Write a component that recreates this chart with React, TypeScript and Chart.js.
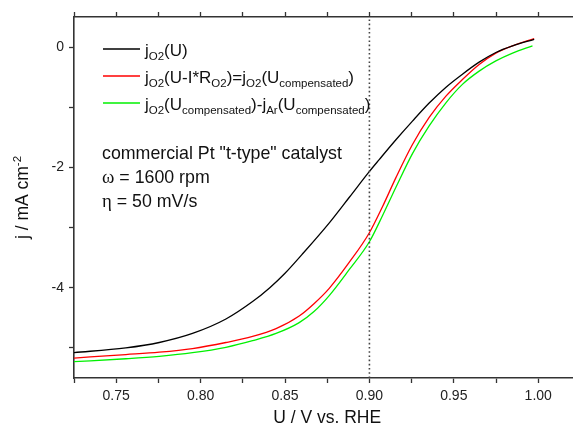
import React, { useEffect, useRef } from "react";
import { Chart, registerables } from "chart.js";

Chart.register(...registerables);

// ---- data ----
const blackX = [0.7241, 0.7557, 0.7755, 0.7952, 0.815, 0.8308, 0.841, 0.85, 0.86, 0.876, 0.888, 0.8999, 0.9058, 0.9157, 0.9255, 0.9354, 0.9452, 0.9551, 0.965, 0.9749, 0.9848, 0.9976];
const blackY = [-5.08, -5.0, -4.91, -4.76, -4.52, -4.23, -4.0, -3.76, -3.45, -2.93, -2.5, -2.07, -1.87, -1.54, -1.23, -0.93, -0.67, -0.45, -0.25, -0.09, 0.02, 0.13];

const redX = [0.7241, 0.7557, 0.7755, 0.7952, 0.815, 0.8308, 0.8447, 0.8584, 0.867, 0.8762, 0.888, 0.8999, 0.9078, 0.9157, 0.9255, 0.9354, 0.9452, 0.9551, 0.965, 0.9749, 0.9848, 0.9976];
const redY = [-5.17, -5.11, -5.07, -5.01, -4.91, -4.81, -4.68, -4.47, -4.27, -4.01, -3.58, -3.09, -2.65, -2.17, -1.62, -1.17, -0.82, -0.54, -0.29, -0.1, 0.02, 0.14];

const greenX = [0.7241, 0.7557, 0.7755, 0.7952, 0.815, 0.8308, 0.8447, 0.8584, 0.867, 0.8762, 0.888, 0.8999, 0.9078, 0.9157, 0.9255, 0.9354, 0.9452, 0.9551, 0.965, 0.9749, 0.9848, 0.9966];
const greenY = [-5.23, -5.18, -5.14, -5.08, -4.99, -4.88, -4.76, -4.58, -4.4, -4.13, -3.7, -3.24, -2.8, -2.33, -1.77, -1.31, -0.93, -0.62, -0.4, -0.23, -0.1, 0.02];

const markerX = [0.9, 0.9];
const markerY = [-5.5, 0.5];

const xMin = 0.725;
const xMax = 1.0206;
const yMin = -5.5;
const yMax = 0.5;

const xTickValues = [0.725, 0.75, 0.775, 0.8, 0.825, 0.85, 0.875, 0.9, 0.925, 0.95, 0.975, 1.0];
const xTickLabels = ["", "0.75", "", "0.80", "", "0.85", "", "0.90", "", "0.95", "", "1.00"];
const yTickValues = [-5, -4, -3, -2, -1, 0];
const yTickLabels = ["", "-4", "", "-2", "", "0"];

type Part = [string, "n" | "sub" | "sup" | "g"];

const legendItems: { color: string; parts: Part[] }[] = [
  { color: "#000000", parts: [["j", "n"], ["O2", "sub"], ["(U)", "n"]] },
  {
    color: "#ff0000",
    parts: [["j", "n"], ["O2", "sub"], ["(U-I*R", "n"], ["O2", "sub"], [")=j", "n"], ["O2", "sub"], ["(U", "n"], ["compensated", "sub"], [")", "n"]],
  },
  {
    color: "#00f000",
    parts: [["j", "n"], ["O2", "sub"], ["(U", "n"], ["compensated", "sub"], [")-j", "n"], ["Ar", "sub"], ["(U", "n"], ["compensated", "sub"], [")", "n"]],
  },
];

const noteLines: Part[][] = [
  [["commercial Pt \"t-type\" catalyst", "n"]],
  [["\u03c9", "g"], [" = 1600 rpm", "n"]],
  [["\u03b7", "g"], [" = 50 mV/s", "n"]],
];

const xTitle: Part[] = [["U / V vs. RHE", "n"]];
const yTitle: Part[] = [["j / mA cm", "n"], ["-2", "sup"]];

const SANS = '"Liberation Sans", Arial, sans-serif';
const SERIF = '"Liberation Serif", "Times New Roman", serif';
const SUB = 11.5;

function partFont(m: Part[1], size: number) {
  if (m === "n") return `${size}px ${SANS}`;
  if (m === "g") return `${size + 1}px ${SERIF}`;
  return `${SUB}px ${SANS}`;
}
function partDy(m: Part[1]) {
  if (m === "sub") return 4;
  if (m === "sup") return -7;
  return 0;
}
function richWidth(ctx: CanvasRenderingContext2D, parts: Part[], size: number) {
  let w = 0;
  for (const [t, m] of parts) {
    ctx.font = partFont(m, size);
    w += ctx.measureText(t).width;
  }
  return w;
}
function drawRich(ctx: CanvasRenderingContext2D, x: number, y: number, parts: Part[], size: number) {
  let cx = x;
  ctx.textAlign = "left";
  ctx.textBaseline = "alphabetic";
  for (const [t, m] of parts) {
    ctx.font = partFont(m, size);
    ctx.fillText(t, cx, y + partDy(m));
    cx += ctx.measureText(t).width;
  }
}

const pts = (xs: number[], ys: number[]) => xs.map((x, i) => ({ x, y: ys[i] }));

const overlayPlugin = {
  id: "overlay",
  afterDraw(chart: any) {
    const ctx: CanvasRenderingContext2D = chart.ctx;
    const xs = chart.scales.x;
    const area = chart.chartArea;
    ctx.save();
    ctx.fillStyle = "#111";
    const rows = [49, 76, 103];
    legendItems.forEach((it, i) => {
      ctx.strokeStyle = it.color;
      ctx.lineWidth = 1.4;
      ctx.beginPath();
      ctx.moveTo(103, rows[i]);
      ctx.lineTo(140, rows[i]);
      ctx.stroke();
      ctx.fillStyle = "#111";
      drawRich(ctx, 145, rows[i] + 7, it.parts, 17);
    });
    const noteY = [159, 183, 207];
    noteLines.forEach((p, i) => drawRich(ctx, 102, noteY[i], p, 17.8));
    const xc = xs.getPixelForValue(0.875);
    const xw = richWidth(ctx, xTitle, 17.5);
    drawRich(ctx, xc - xw / 2, 423, xTitle, 17.5);
    const yc = (area.top + area.bottom) / 2;
    const yw = richWidth(ctx, yTitle, 17.5);
    ctx.translate(28, yc);
    ctx.rotate(-Math.PI / 2);
    drawRich(ctx, -yw / 2, 0, yTitle, 17.5);
    ctx.restore();
  },
};

const setTicks = (vals: number[]) => (s: any) => {
  s.ticks = vals.map((v) => ({ value: v }));
};
const labelFrom = (vals: number[], labels: string[]) => (v: any) => {
  const i = vals.findIndex((t) => Math.abs(t - Number(v)) < 1e-6);
  return i >= 0 ? labels[i] : "";
};

export default function App() {
  const ref = useRef<HTMLCanvasElement | null>(null);
  useEffect(() => {
    document.body.style.margin = "0";
    const canvas = ref.current!;
    const tickFont = { family: SANS, size: 14 };
    const grid = { drawOnChartArea: false, drawTicks: true, tickLength: 5, tickColor: "#333", tickWidth: 1.3 };
    const border = { display: true, color: "#333", width: 1.6 };
    const chart = new Chart(canvas, {
      type: "line",
      data: {
        datasets: [
          { data: pts(markerX, markerY), borderColor: "#444", borderWidth: 1.6, borderDash: [1.6, 2.6], pointRadius: 0 },
          { data: pts(blackX, blackY), borderColor: "#000000", borderWidth: 1.3, pointRadius: 0, cubicInterpolationMode: "monotone" },
          { data: pts(greenX, greenY), borderColor: "#00f000", borderWidth: 1.3, pointRadius: 0, cubicInterpolationMode: "monotone" },
          { data: pts(redX, redY), borderColor: "#ff0000", borderWidth: 1.3, pointRadius: 0, cubicInterpolationMode: "monotone" },
        ],
      },
      options: {
        animation: false,
        responsive: false,
        devicePixelRatio: 1,
        layout: { padding: 0 },
        plugins: { legend: { display: false }, tooltip: { enabled: false } },
        scales: {
          x: {
            type: "linear",
            position: "bottom",
            min: xMin,
            max: xMax,
            afterBuildTicks: setTicks(xTickValues),
            afterFit: (s: any) => { s.height = 49; },
            ticks: { font: tickFont, color: "#222", padding: 5, maxRotation: 0, autoSkip: false, callback: labelFrom(xTickValues, xTickLabels) },
            grid,
            border,
          },
          xTop: {
            type: "linear",
            position: "top",
            min: xMin,
            max: xMax,
            afterBuildTicks: setTicks(xTickValues),
            afterFit: (s: any) => { s.height = 17; },
            ticks: { display: false, autoSkip: false },
            grid,
            border,
          },
          y: {
            type: "linear",
            position: "left",
            min: yMin,
            max: yMax,
            afterBuildTicks: setTicks(yTickValues),
            afterFit: (s: any) => { s.width = 74; },
            ticks: { font: tickFont, color: "#222", padding: 5, autoSkip: false, callback: labelFrom(yTickValues, yTickLabels) },
            grid,
            border,
          },
        },
      },
      plugins: [overlayPlugin],
    } as any);
    return () => chart.destroy();
  }, []);
  return (
    <canvas
      ref={ref}
      width={573}
      height={427}
      style={{ position: "absolute", left: 0, top: 0, width: 573, height: 427, background: "#fff" }}
    />
  );
}
